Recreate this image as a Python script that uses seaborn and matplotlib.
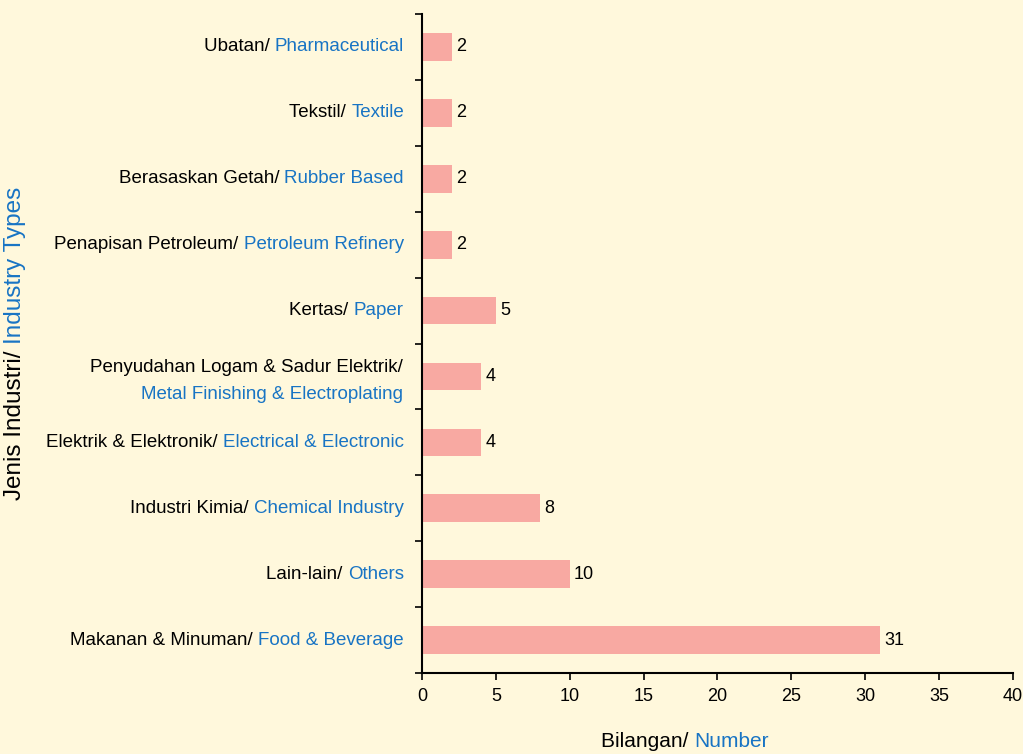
import numpy as np
import matplotlib
matplotlib.use('Agg')
import matplotlib.pyplot as plt
import seaborn as sns

# data, top to bottom as drawn
malay = ['Ubatan/', 'Tekstil/', 'Berasaskan Getah/', 'Penapisan Petroleum/', 'Kertas/',
         'Penyudahan Logam & Sadur Elektrik/', 'Elektrik & Elektronik/', 'Industri Kimia/',
         'Lain-lain/', 'Makanan & Minuman/']
english = ['Pharmaceutical', 'Textile', 'Rubber Based', 'Petroleum Refinery', 'Paper',
           'Metal Finishing & Electroplating', 'Electrical & Electronic', 'Chemical Industry',
           'Others', 'Food & Beverage']
counts = [2, 2, 2, 2, 5, 4, 4, 8, 10, 31]
x_ticks = [0, 5, 10, 15, 20, 25, 30, 35, 40]

bg = '#FFF8DC'
bar_col = '#F8A9A2'
blue = '#1874C4'

sns.set_style('ticks')
plt.rcParams['font.family'] = ['Liberation Sans', 'DejaVu Sans']

fig = plt.figure(figsize=(10.23, 7.54), dpi=100, facecolor=bg)
ax = fig.add_axes([0.4125, 0.1074, 0.5775, 0.8740])
ax.set_facecolor(bg)

sns.barplot(x=counts, y=english, orient='h', color=bar_col, width=0.42, ax=ax,
            saturation=1, linewidth=0)
ax.bar_label(ax.containers[0], padding=3, fontsize=13, color='black')

ax.set_xlim(0, 40)
ax.set_xticks(x_ticks)
ax.set_ylim(len(counts) - 0.5, -0.5)
ax.set_yticks(np.arange(len(counts)))
ax.set_yticklabels([])
ax.tick_params(axis='y', which='major', length=0)
ax.set_yticks(np.arange(-0.5, len(counts), 1), minor=True)
ax.tick_params(axis='y', which='minor', length=5, width=1.2, color='black')
ax.tick_params(axis='x', length=5, width=1.2, labelsize=13, pad=6, color='black',
               labelcolor='black')
for s in ['top', 'right']:
    ax.spines[s].set_visible(False)
for s in ['left', 'bottom']:
    ax.spines[s].set_linewidth(1.5)
    ax.spines[s].set_color('black')
ax.set_xlabel('')
ax.set_ylabel('')

# two-colour category labels
fs = 13.5
for i, (m, e) in enumerate(zip(malay, english)):
    if e.startswith('Metal'):
        ax.annotate(m, xy=(0, i), xycoords=('axes fraction', 'data'),
                    xytext=(-19, 9), textcoords='offset pixels',
                    ha='right', va='center', fontsize=fs, color='black')
        ax.annotate(e, xy=(0, i), xycoords=('axes fraction', 'data'),
                    xytext=(-19, -18), textcoords='offset pixels',
                    ha='right', va='center', fontsize=fs, color=blue)
        continue
    t = ax.annotate(e, xy=(0, i), xycoords=('axes fraction', 'data'),
                    xytext=(-18, 0), textcoords='offset pixels',
                    ha='right', va='center', fontsize=fs, color=blue)
    ax.annotate(m + ' ', xy=(0, 0.5), xycoords=t, ha='right', va='center',
                fontsize=fs, color='black')

# axis titles, two colours
yl = fig.text(0.0147, 0.44, 'Jenis Industri/ ', rotation=90, ha='center', va='center',
              fontsize=17.5, color='black')
ax.annotate('Industry Types', xy=(0.5, 1), xycoords=yl, ha='center', va='bottom',
            rotation=90, fontsize=17.5, color=blue)
xl = fig.text(0.679, 0.004, 'Bilangan/ ', ha='right', va='bottom', fontsize=15, color='black')
ax.annotate('Number', xy=(1, 0), xycoords=xl, ha='left', va='bottom',
            fontsize=15, color=blue)

fig.savefig('out.png', dpi=100, facecolor=bg)
